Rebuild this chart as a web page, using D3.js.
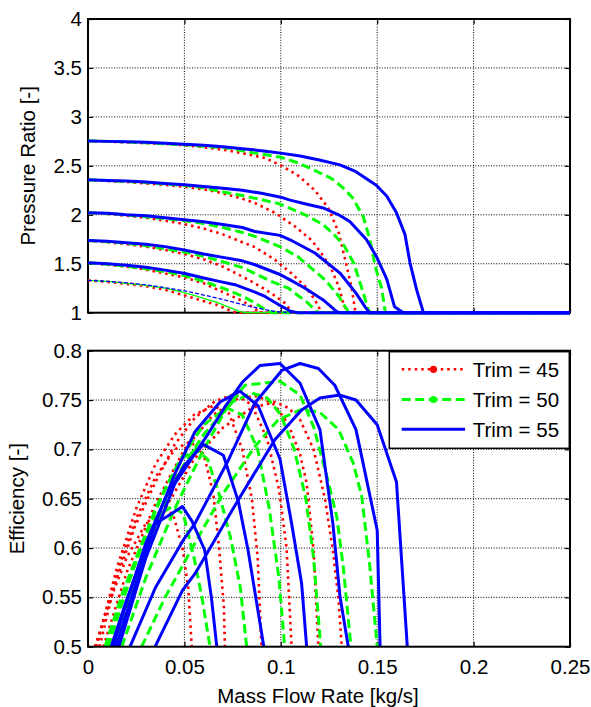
<!DOCTYPE html>
<html>
<head>
<meta charset="utf-8">
<script src="https://cdn.jsdelivr.net/npm/d3@7"></script>
<style>
  body { margin: 0; background: #fff; }
  svg { display: block; }
  text { font-family: "Liberation Sans", Arial, Helvetica, sans-serif; }
</style>
</head>
<body>
<svg id="fig" width="591" height="707"></svg>
<script>
// ---- data -------------------------------------------------------------
const trims = [45, 50, 55];
const massTicks = [0, 0.05, 0.1, 0.15, 0.2, 0.25];
const massTickLabels = ["0", "0.05", "0.1", "0.15", "0.2", "0.25"];
const prTicks = [1, 1.5, 2, 2.5, 3, 3.5, 4];
const prTickLabels = ["1", "1.5", "2", "2.5", "3", "3.5", "4"];
const effTicks = [0.5, 0.55, 0.6, 0.65, 0.7, 0.75, 0.8];
const effTickLabels = ["0.5", "0.55", "0.6", "0.65", "0.7", "0.75", "0.8"];

// pressure ratio speed lines, [mass flow, pressure ratio], lowest speed first
const prTrim45 = [
  [[0,1.33],[0.01,1.315],[0.02,1.295],[0.03,1.27],[0.04,1.235],[0.0495,1.18],[0.058,1.13],[0.0668,1.08],[0.0754,1.01],[0.078,1.0],[0.25,1.0]],
  [[0,1.51],[0.01,1.49],[0.02,1.47],[0.03,1.44],[0.04,1.40],[0.05,1.36],[0.06,1.30],[0.07,1.21],[0.08,1.12],[0.086,1.05],[0.089,1.0],[0.25,1.0]],
  [[0,1.738],[0.01,1.72],[0.02,1.7],[0.03,1.675],[0.04,1.64],[0.05,1.6],[0.06,1.545],[0.07,1.47],[0.08,1.37],[0.0866,1.30],[0.095,1.2],[0.102,1.1],[0.1056,1.01],[0.107,1.0],[0.25,1.0]],
  [[0,2.022],[0.01,2.01],[0.02,1.99],[0.03,1.97],[0.04,1.94],[0.05,1.905],[0.06,1.86],[0.07,1.8],[0.08,1.72],[0.0866,1.67],[0.097,1.54],[0.1056,1.40],[0.1126,1.27],[0.1177,1.13],[0.121,1.01],[0.122,1.0],[0.25,1.0]],
  [[0,2.357],[0.01,2.345],[0.02,2.335],[0.03,2.32],[0.04,2.305],[0.05,2.285],[0.06,2.26],[0.07,2.22],[0.08,2.165],[0.0866,2.12],[0.097,2.02],[0.1074,1.88],[0.116,1.74],[0.121,1.61],[0.1264,1.44],[0.13,1.27],[0.1324,1.1],[0.134,1.01],[0.135,1.0],[0.25,1.0]],
  [[0,2.755],[0.01,2.748],[0.02,2.74],[0.03,2.732],[0.04,2.725],[0.05,2.71],[0.06,2.69],[0.07,2.665],[0.08,2.63],[0.0918,2.58],[0.1005,2.5],[0.109,2.4],[0.1177,2.25],[0.1246,2.07],[0.13,1.82],[0.1333,1.55],[0.1368,1.25],[0.1385,1.03],[0.139,1.0],[0.25,1.0]]
];
const prTrim50 = [
  [[0,1.33],[0.01,1.32],[0.02,1.3],[0.03,1.28],[0.04,1.25],[0.0495,1.207],[0.058,1.16],[0.0668,1.105],[0.074,1.05],[0.0788,1.01],[0.082,1.0],[0.25,1.0]],
  [[0,1.51],[0.01,1.495],[0.02,1.475],[0.03,1.45],[0.04,1.42],[0.05,1.38],[0.06,1.32],[0.07,1.25],[0.08,1.17],[0.0866,1.10],[0.092,1.03],[0.095,1.0],[0.25,1.0]],
  [[0,1.738],[0.01,1.725],[0.02,1.71],[0.03,1.685],[0.04,1.655],[0.05,1.62],[0.06,1.575],[0.07,1.52],[0.08,1.46],[0.0866,1.40],[0.095,1.32],[0.104,1.25],[0.114,1.10],[0.1186,1.01],[0.12,1.0],[0.25,1.0]],
  [[0,2.022],[0.01,2.012],[0.02,2.0],[0.03,1.98],[0.04,1.96],[0.05,1.94],[0.06,1.91],[0.07,1.87],[0.08,1.82],[0.0866,1.78],[0.1,1.67],[0.109,1.57],[0.123,1.335],[0.13,1.17],[0.135,1.01],[0.136,1.0],[0.25,1.0]],
  [[0,2.357],[0.01,2.35],[0.02,2.34],[0.03,2.33],[0.04,2.315],[0.05,2.3],[0.06,2.275],[0.0737,2.22],[0.0866,2.17],[0.0996,2.11],[0.1126,2.0],[0.122,1.9],[0.128,1.79],[0.133,1.68],[0.138,1.5],[0.1425,1.22],[0.1455,1.02],[0.147,1.0],[0.25,1.0]],
  [[0,2.755],[0.01,2.75],[0.02,2.745],[0.03,2.735],[0.04,2.725],[0.05,2.715],[0.06,2.7],[0.0737,2.68],[0.0866,2.63],[0.0996,2.59],[0.109,2.53],[0.1169,2.46],[0.1264,2.37],[0.132,2.28],[0.137,2.18],[0.1428,1.98],[0.1463,1.74],[0.149,1.47],[0.1523,1.25],[0.154,1.03],[0.1546,1.0],[0.25,1.0]]
];
const prTrim55 = [
  [[0,1.33],[0.01,1.32],[0.02,1.305],[0.03,1.285],[0.04,1.255],[0.0495,1.225],[0.058,1.19],[0.0668,1.15],[0.075,1.11],[0.084,1.064],[0.091,1.035],[0.0978,1.01],[0.105,1.0],[0.25,1.0]],
  [[0,1.51],[0.01,1.5],[0.02,1.485],[0.03,1.465],[0.04,1.435],[0.0503,1.40],[0.06,1.355],[0.068,1.32],[0.0762,1.286],[0.0866,1.21],[0.0918,1.166],[0.1005,1.064],[0.105,1.015],[0.109,1.0],[0.25,1.0]],
  [[0,1.738],[0.01,1.73],[0.02,1.715],[0.03,1.7],[0.04,1.675],[0.05,1.64],[0.06,1.6],[0.07,1.565],[0.08,1.53],[0.0866,1.49],[0.0996,1.39],[0.1048,1.335],[0.1126,1.25],[0.122,1.13],[0.129,1.01],[0.1307,1.0],[0.25,1.0]],
  [[0,2.022],[0.01,2.015],[0.02,2.0],[0.03,1.99],[0.04,1.97],[0.05,1.95],[0.06,1.93],[0.07,1.9],[0.08,1.87],[0.0866,1.83],[0.0996,1.79],[0.1048,1.745],[0.1177,1.61],[0.1307,1.405],[0.139,1.2],[0.1437,1.06],[0.146,1.0],[0.25,1.0]],
  [[0,2.357],[0.01,2.35],[0.02,2.345],[0.03,2.335],[0.04,2.32],[0.05,2.306],[0.06,2.29],[0.07,2.27],[0.08,2.25],[0.09,2.22],[0.1,2.18],[0.1048,2.15],[0.113,2.11],[0.122,2.07],[0.13,2.0],[0.1359,1.93],[0.1445,1.745],[0.1497,1.57],[0.155,1.34],[0.159,1.06],[0.1635,1.0],[0.25,1.0]],
  [[0,2.755],[0.01,2.75],[0.02,2.745],[0.03,2.74],[0.04,2.73],[0.05,2.72],[0.06,2.71],[0.07,2.695],[0.08,2.675],[0.09,2.655],[0.1,2.63],[0.11,2.6],[0.12,2.56],[0.1307,2.51],[0.139,2.44],[0.1497,2.30],[0.155,2.19],[0.16,2.02],[0.1644,1.80],[0.167,1.51],[0.1705,1.23],[0.174,1.0],[0.25,1.0]]
];

// efficiency speed lines, [mass flow, efficiency], lowest speed first
const effTrim45 = [
  [[0.0036,0.5],[0.012,0.55],[0.02,0.59],[0.03,0.625],[0.038,0.638],[0.044,0.635],[0.049,0.6],[0.052,0.56],[0.0538,0.5]],
  [[0.004,0.5],[0.015,0.575],[0.025,0.63],[0.035,0.672],[0.045,0.7],[0.053,0.708],[0.06,0.695],[0.065,0.655],[0.068,0.6],[0.0705,0.54],[0.071,0.5]],
  [[0.0045,0.5],[0.015,0.58],[0.025,0.64],[0.035,0.685],[0.045,0.715],[0.055,0.735],[0.065,0.744],[0.073,0.737],[0.08,0.7],[0.085,0.65],[0.088,0.59],[0.09,0.5]],
  [[0.006,0.5],[0.014,0.564],[0.0244,0.622],[0.0348,0.666],[0.045,0.705],[0.0555,0.732],[0.066,0.749],[0.076,0.756],[0.085,0.745],[0.093,0.71],[0.099,0.66],[0.103,0.6],[0.1056,0.5]],
  [[0.008,0.5],[0.02,0.575],[0.035,0.645],[0.05,0.7],[0.065,0.735],[0.078,0.752],[0.088,0.754],[0.097,0.745],[0.104,0.725],[0.11,0.695],[0.1134,0.666],[0.117,0.598],[0.1195,0.5]],
  [[0.012,0.5],[0.025,0.575],[0.04,0.64],[0.055,0.69],[0.07,0.722],[0.085,0.742],[0.097,0.748],[0.104,0.742],[0.11,0.73],[0.117,0.70],[0.123,0.649],[0.127,0.598],[0.13,0.547],[0.1316,0.5]]
];
const effTrim50 = [
  [[0.0088,0.5],[0.018,0.555],[0.028,0.605],[0.036,0.633],[0.0434,0.642],[0.0494,0.635],[0.055,0.59],[0.059,0.551],[0.0633,0.5]],
  [[0.0095,0.5],[0.02,0.56],[0.03,0.615],[0.04,0.66],[0.048,0.69],[0.056,0.70],[0.062,0.69],[0.068,0.655],[0.074,0.61],[0.079,0.56],[0.0823,0.5]],
  [[0.0105,0.5],[0.022,0.57],[0.035,0.64],[0.048,0.69],[0.06,0.725],[0.072,0.742],[0.08,0.735],[0.088,0.7],[0.094,0.64],[0.099,0.57],[0.102,0.5]],
  [[0.013,0.5],[0.03,0.6],[0.045,0.67],[0.06,0.715],[0.075,0.748],[0.085,0.757],[0.093,0.752],[0.1,0.735],[0.107,0.70],[0.113,0.65],[0.117,0.59],[0.1207,0.5]],
  [[0.0175,0.5],[0.03,0.57],[0.045,0.64],[0.06,0.70],[0.0714,0.74],[0.0814,0.765],[0.0996,0.769],[0.11,0.755],[0.117,0.723],[0.124,0.672],[0.129,0.632],[0.1324,0.581],[0.1364,0.5]],
  [[0.0278,0.5],[0.04,0.55],[0.0555,0.605],[0.07,0.655],[0.0866,0.703],[0.0987,0.73],[0.11,0.74],[0.12,0.738],[0.13,0.72],[0.1376,0.686],[0.142,0.652],[0.146,0.585],[0.15,0.5]]
];
const effTrim55 = [
  [[0.012,0.5],[0.02,0.547],[0.028,0.59],[0.035,0.625],[0.041,0.632],[0.049,0.642],[0.054,0.627],[0.0605,0.598],[0.064,0.55],[0.0668,0.5]],
  [[0.013,0.5],[0.02,0.545],[0.03,0.605],[0.04,0.65],[0.05,0.684],[0.0598,0.705],[0.0702,0.694],[0.078,0.647],[0.083,0.598],[0.0912,0.5]],
  [[0.0145,0.5],[0.025,0.565],[0.035,0.625],[0.045,0.675],[0.0555,0.718],[0.0685,0.748],[0.0788,0.759],[0.0883,0.744],[0.0996,0.69],[0.1056,0.625],[0.1108,0.564],[0.1134,0.5]],
  [[0.016,0.5],[0.03,0.59],[0.045,0.665],[0.0624,0.716],[0.071,0.743],[0.08,0.768],[0.0892,0.785],[0.0996,0.787],[0.11,0.767],[0.1203,0.72],[0.127,0.625],[0.1307,0.551],[0.135,0.5]],
  [[0.0218,0.5],[0.035,0.56],[0.0494,0.608],[0.0555,0.625],[0.0728,0.689],[0.0866,0.747],[0.1005,0.78],[0.11,0.787],[0.1195,0.782],[0.128,0.765],[0.139,0.72],[0.15,0.618],[0.1515,0.5]],
  [[0.0348,0.5],[0.049,0.557],[0.0555,0.574],[0.078,0.649],[0.097,0.71],[0.1108,0.74],[0.1203,0.752],[0.1307,0.755],[0.139,0.75],[0.15,0.725],[0.16,0.667],[0.1656,0.5]]
];

// ---- layout & styles ---------------------------------------------------
const svg = d3.select("#fig");
const FONT = 20.5;
const left = 88, right = 570;
const topPanel = { y0: 19, y1: 312.7 };
const botPanel = { y0: 350.7, y1: 646.7 };

const trimStyle = {
  45: { color: "#ff0000", dash: "2.5,4", width: 2.6 },
  50: { color: "#00ff00", dash: "9,4.5", width: 3 },
  55: { color: "#0000ff", dash: null, width: 3 }
};
// the lowest pressure-ratio line is drawn thin for trims 50 and 55
const lowPrStyle = {
  45: { color: "#ff0000", dash: "2.5,4", width: 2.6 },
  50: { color: "#00ff00", dash: null, width: 1.3 },
  55: { color: "#0000ff", dash: "4,2", width: 1.3 }
};

const x = d3.scaleLinear().domain([0, 0.25]).range([left, right]);
const yPr = d3.scaleLinear().domain([1, 4]).range([topPanel.y1, topPanel.y0]);
const yEff = d3.scaleLinear().domain([0.5, 0.8]).range([botPanel.y1, botPanel.y0]);

const defs = svg.append("defs");
defs.append("clipPath").attr("id", "clipTop").append("rect")
  .attr("x", left - 2).attr("y", topPanel.y0)
  .attr("width", right - left + 2).attr("height", topPanel.y1 - topPanel.y0 + 3);
defs.append("clipPath").attr("id", "clipBot").append("rect")
  .attr("x", left).attr("y", botPanel.y0)
  .attr("width", right - left).attr("height", botPanel.y1 - botPanel.y0);

function drawPanel(panel, y, yTicks, yLabels, showX) {
  const g = svg.append("g");
  // grid
  g.append("g").selectAll("line").data(yTicks.slice(1, -1)).join("line")
    .attr("x1", left).attr("x2", right)
    .attr("y1", d => y(d)).attr("y2", d => y(d))
    .attr("stroke", "#000").attr("stroke-width", 1).attr("stroke-dasharray", "1,1.6");
  g.append("g").selectAll("line").data(massTicks.slice(1, -1)).join("line")
    .attr("x1", d => x(d)).attr("x2", d => x(d))
    .attr("y1", panel.y0).attr("y2", panel.y1)
    .attr("stroke", "#000").attr("stroke-width", 1).attr("stroke-dasharray", "1,1.6");

  // inward ticks on all four sides
  const axL = d3.axisLeft(y).tickValues(yTicks).tickSizeInner(-5).tickSizeOuter(0)
    .tickPadding(6).tickFormat((d, i) => yLabels[i]);
  const axR = d3.axisRight(y).tickValues(yTicks).tickSizeInner(-5).tickSizeOuter(0).tickFormat("");
  const axB = d3.axisBottom(x).tickValues(massTicks).tickSizeInner(-5).tickSizeOuter(0)
    .tickPadding(12.5).tickFormat((d, i) => showX ? massTickLabels[i] : "");
  const axT = d3.axisTop(x).tickValues(massTicks).tickSizeInner(-5).tickSizeOuter(0).tickFormat("");

  const styleAxis = sel => {
    sel.select(".domain").remove();
    sel.selectAll(".tick line").attr("stroke", "#000").attr("stroke-width", 1.2);
    sel.selectAll("text").attr("font-size", FONT)
      .attr("font-family", '"Liberation Sans", Arial, sans-serif').attr("fill", "#000");
    sel.attr("font-size", FONT).attr("font-family", null);
  };
  g.append("g").attr("transform", `translate(${left},0)`).call(axL).call(styleAxis);
  g.append("g").attr("transform", `translate(${right},0)`).call(axR).call(styleAxis);
  g.append("g").attr("transform", `translate(0,${panel.y1})`).call(axB).call(styleAxis);
  g.append("g").attr("transform", `translate(0,${panel.y0})`).call(axT).call(styleAxis);
  return g;
}

function drawBox(panel) {
  svg.append("rect")
    .attr("x", left).attr("y", panel.y0)
    .attr("width", right - left).attr("height", panel.y1 - panel.y0)
    .attr("fill", "none").attr("stroke", "#000").attr("stroke-width", 2);
}

function drawLines(series, y, clipId, styleFor) {
  const line = d3.line().x(d => x(d[0])).y(d => y(d[1]));
  const g = svg.append("g").attr("clip-path", `url(#${clipId})`);
  series.forEach(({ trim, curves }) => {
    curves.forEach((c, i) => {
      const s = styleFor(trim, i);
      g.append("path").datum(c).attr("d", line)
        .attr("fill", "none").attr("stroke", s.color)
        .attr("stroke-width", s.width)
        .attr("stroke-dasharray", s.dash)
        .attr("stroke-linejoin", "round");
    });
  });
}

// ---- top panel: pressure ratio -----------------------------------------
drawPanel(topPanel, yPr, prTicks, prTickLabels, false);
drawBox(topPanel);
drawLines(
  [{ trim: 45, curves: prTrim45 }, { trim: 50, curves: prTrim50 }, { trim: 55, curves: prTrim55 }],
  yPr, "clipTop",
  (t, i) => i === 0 ? lowPrStyle[t] : trimStyle[t]
);

// ---- bottom panel: efficiency ------------------------------------------
drawPanel(botPanel, yEff, effTicks, effTickLabels, true);
drawLines(
  [{ trim: 45, curves: effTrim45 }, { trim: 50, curves: effTrim50 }, { trim: 55, curves: effTrim55 }],
  yEff, "clipBot",
  (t) => trimStyle[t]
);
drawBox(botPanel);

// ---- axis titles ---------------------------------------------------------
svg.append("text")
  .attr("transform", `translate(34.5,${(topPanel.y0 + topPanel.y1) / 2}) rotate(-90)`)
  .attr("text-anchor", "middle").attr("font-size", FONT).text("Pressure Ratio [-]");
svg.append("text")
  .attr("transform", `translate(24,${(botPanel.y0 + botPanel.y1) / 2}) rotate(-90)`)
  .attr("text-anchor", "middle").attr("font-size", FONT).text("Efficiency [-]");
svg.append("text")
  .attr("x", 318).attr("y", 703)
  .attr("text-anchor", "middle").attr("font-size", FONT).text("Mass Flow Rate [kg/s]");

// ---- legend --------------------------------------------------------------
const legend = svg.append("g");
legend.append("rect")
  .attr("x", 389.3).attr("y", 351.7).attr("width", 180).attr("height", 96.6)
  .attr("fill", "#fff").attr("stroke", "#000").attr("stroke-width", 1.5);
const rowY = [369.3, 399.5, 429.3];
trims.forEach((t, i) => {
  const s = trimStyle[t];
  legend.append("line")
    .attr("x1", 401.7).attr("x2", 465).attr("y1", rowY[i]).attr("y2", rowY[i])
    .attr("stroke", s.color).attr("stroke-width", s.width).attr("stroke-dasharray", s.dash);
  if (t !== 55) {
    legend.append("circle").attr("cx", 433.5).attr("cy", rowY[i]).attr("r", 3.6).attr("fill", s.color);
  }
  legend.append("text")
    .attr("x", 472.7).attr("y", rowY[i]).attr("dy", "0.36em")
    .attr("font-size", FONT).text(`Trim = ${t}`);
});
</script>
</body>
</html>
